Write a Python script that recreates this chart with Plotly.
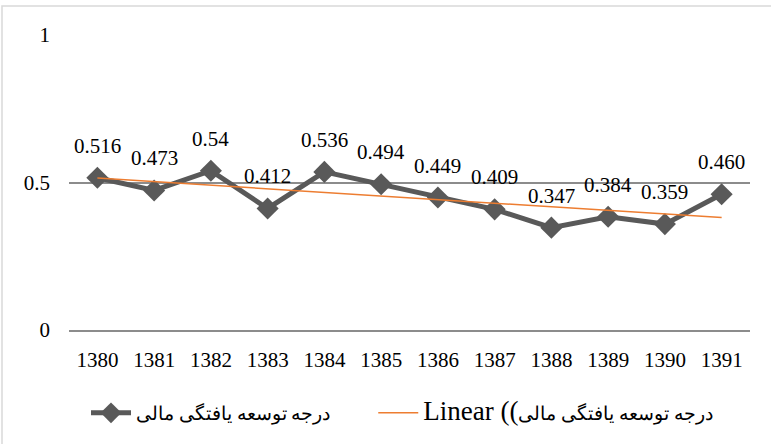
import numpy as np
import plotly.graph_objects as go

years = ["1380", "1381", "1382", "1383", "1384", "1385", "1386", "1387", "1388", "1389", "1390", "1391"]
values = [0.516, 0.473, 0.54, 0.412, 0.536, 0.494, 0.449, 0.409, 0.347, 0.384, 0.359, 0.460]
labels = ["0.516", "0.473", "0.54", "0.412", "0.536", "0.494", "0.449", "0.409", "0.347", "0.384", "0.359", "0.460"]
series_name = "درجه توسعه یافتگی مالی"
trend_prefix = "Linear (("
y_ticks = [0, 0.5, 1]
y_ticktext = ["0", "0.5", "1"]

idx = np.arange(len(values))
slope, intercept = np.polyfit(idx, values, 1)
trend = slope * idx + intercept

FONT = "Liberation Serif, Times New Roman, serif"

fig = go.Figure()
fig.add_trace(go.Scatter(
    x=idx, y=values, mode="lines+markers", name=series_name + "\u00a0" * 8,
    line=dict(color="#595959", width=5),
    marker=dict(symbol="diamond", size=17, color="#595959"),
))
fig.add_trace(go.Scatter(
    x=idx, y=trend, mode="lines",
    name='<span style="font-size:27px">' + trend_prefix + '</span>' + series_name,
    line=dict(color="#ED7D31", width=1.5),
))

for i, v, lab in zip(idx, values, labels):
    fig.add_annotation(x=int(i), y=v, text=lab, showarrow=False, yshift=32,
                       font=dict(family=FONT, size=21, color="#000000"))

fig.add_shape(type="rect", xref="paper", yref="paper",
              x0=(2 - 69) / 681, x1=(790 - 69) / 681,
              y0=(330 - 460) / 295, y1=(330 - 6) / 295,
              line=dict(color="#D9D9D9", width=1.5), fillcolor="rgba(0,0,0,0)", layer="below")

fig.update_layout(
    width=771, height=444,
    margin=dict(l=69, r=21, t=35, b=114, autoexpand=False),
    paper_bgcolor="white", plot_bgcolor="white",
    font=dict(family=FONT, size=21, color="#000000"),
    showlegend=True,
    legend=dict(orientation="h", x=(86 - 69) / 681, xanchor="left",
                y=(330 - 413) / 295, yanchor="middle",
                font=dict(family=FONT, size=19), bgcolor="rgba(0,0,0,0)",
                itemwidth=40),
    xaxis=dict(tickmode="array", tickvals=idx, ticktext=years,
               range=[-0.5, 11.5], showgrid=False,
               showline=True, linecolor="#8C8C8C", linewidth=1.5,
               ticks="", ticklabelstandoff=10, tickfont=dict(family=FONT, size=21)),
    yaxis=dict(range=[0, 1], tickvals=y_ticks, ticktext=y_ticktext,
               showgrid=True, gridcolor="#8C8C8C", gridwidth=1.5,
               zeroline=False, showline=False, ticks="", ticklabelstandoff=18,
               tickfont=dict(family=FONT, size=21)),
)

fig.write_html("out.html", config={"displayModeBar": False},
               post_script="document.body.style.margin='0';")
